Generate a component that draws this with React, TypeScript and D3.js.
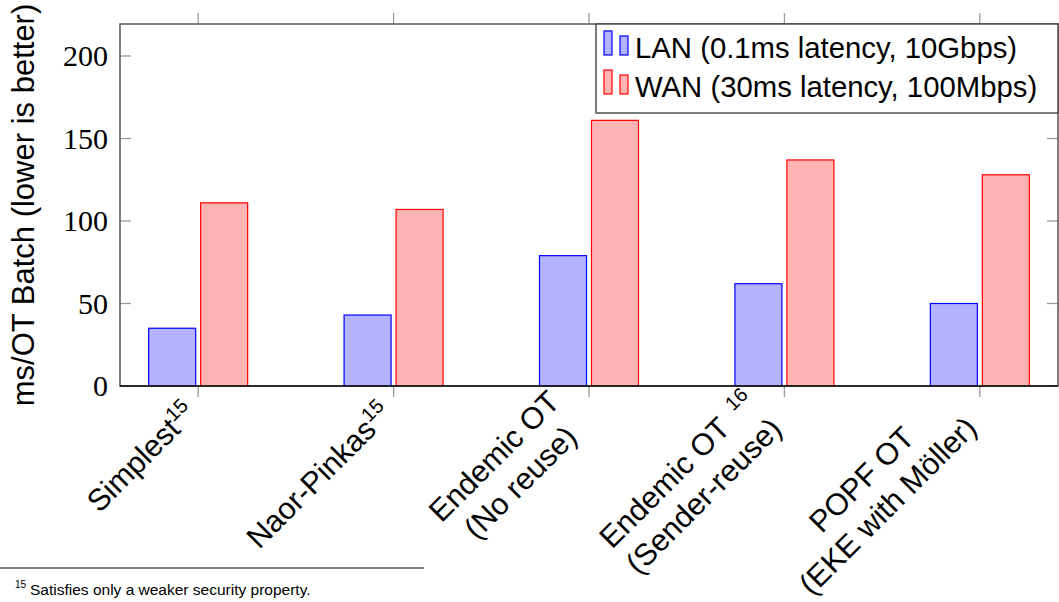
import * as d3 from "d3";
import React, { useEffect, useRef } from "react";

const categories = [
    ["Simplest"],
    ["Naor-Pinkas"],
    ["Endemic OT", "(No reuse)"],
    ["Endemic OT", "(Sender-reuse)"],
    ["POPF OT", "(EKE with Möller)"],
];
const footnoteMarks = ["15", "15", "", "16", ""];
const lanValues = [35, 43, 79, 62, 50];
const wanValues = [111, 107, 161, 137, 128];
const yTicks = [0, 50, 100, 150, 200];
const seriesNames = ["LAN (0.1ms latency, 10Gbps)", "WAN (30ms latency, 100Mbps)"];
const yLabel = "ms/OT Batch (lower is better)";
const footnoteText = "Satisfies only a weaker security property.";

const width = 1059;
const height = 602;
const left = 120;
const right = 1058;
const top = 24;
const bottom = 386;
const sans = "'Liberation Sans', Arial, sans-serif";
const serif = "'Liberation Serif', 'Times New Roman', serif";

const series = [
    { name: seriesNames[0], values: lanValues, fill: "#b3b3ff", stroke: "#0000ff", offset: -26 },
    { name: seriesNames[1], values: wanValues, fill: "#ffb3b3", stroke: "#ff0000", offset: 26 },
];

const App: React.FC = () => {
    const wrapper = useRef<SVGSVGElement>(null);

    useEffect(() => {
        if (!wrapper.current) return;
        const svg = d3.select(wrapper.current);
        svg.selectAll("*").remove();

        const x = d3.scaleLinear().domain([-0.4, 4.4]).range([left, right]);
        const y = d3.scaleLinear().domain([0, 219.4]).range([bottom, top]);
        const barWidth = 47;
        const idx = d3.range(categories.length);

        // ticks
        const ticks = svg.append("g").attr("stroke", "#9a9a9a").attr("stroke-width", 1.3);
        idx.forEach((i) => {
            ticks.append("line").attr("x1", x(i)).attr("x2", x(i)).attr("y1", top - 11).attr("y2", top);
            ticks.append("line").attr("x1", x(i)).attr("x2", x(i)).attr("y1", bottom).attr("y2", bottom + 11);
        });
        yTicks.forEach((t) => {
            ticks.append("line").attr("x1", left).attr("x2", left + 11).attr("y1", y(t)).attr("y2", y(t));
            ticks.append("line").attr("x1", right - 11).attr("x2", right).attr("y1", y(t)).attr("y2", y(t));
        });

        // bars
        series.forEach((s) => {
            svg.append("g")
                .selectAll("rect")
                .data(s.values)
                .join("rect")
                .attr("x", (_, i) => x(i) + s.offset - barWidth / 2)
                .attr("y", (d) => y(d))
                .attr("width", barWidth)
                .attr("height", (d) => y(0) - y(d))
                .attr("fill", s.fill)
                .attr("stroke", s.stroke)
                .attr("stroke-width", 1.2);
        });

        // frame
        svg.append("rect")
            .attr("x", left).attr("y", top)
            .attr("width", right - left).attr("height", bottom - top)
            .attr("fill", "none").attr("stroke", "#555").attr("stroke-width", 1.5);
        svg.append("line")
            .attr("x1", left).attr("x2", right).attr("y1", bottom).attr("y2", bottom)
            .attr("stroke", "#111").attr("stroke-width", 1.6);

        // y tick labels
        svg.append("g")
            .selectAll("text")
            .data(yTicks)
            .join("text")
            .attr("x", 108)
            .attr("y", (d) => y(d) + 10)
            .attr("text-anchor", "end")
            .style("font-family", serif)
            .style("font-size", "30px")
            .text((d) => d);

        // y label
        svg.append("text")
            .attr("transform", `translate(34, ${(top + bottom) / 2}) rotate(-90)`)
            .attr("text-anchor", "middle")
            .style("font-family", sans)
            .style("font-size", "31px")
            .text(yLabel);

        // x tick labels: rotated 45deg, east anchor (right edge, mid height) near the tick
        idx.forEach((i) => {
            const multi = categories[i].length > 1;
            const outer = svg.append("g")
                .attr("transform", `translate(${x(i)}, ${bottom}) rotate(-45)`);
            const inner = outer.append("g");
            categories[i].forEach((line, j) => {
                const t = inner.append("text")
                    .attr("x", 0)
                    .attr("y", j * 37)
                    .attr("text-anchor", "middle")
                    .style("font-family", sans)
                    .style("font-size", "30.5px");
                t.append("tspan").text(line);
                if (j === 0 && footnoteMarks[i]) {
                    t.append("tspan")
                        .attr("dx", multi ? 14 : 0)
                        .attr("dy", -12)
                        .style("font-size", "20px")
                        .text(footnoteMarks[i]);
                }
            });
            const box = (inner.node() as SVGGElement).getBBox();
            const dx = -(box.x + box.width) - (multi ? 32 : 21);
            const dy = -(box.y + box.height / 2) + (multi ? 1 : 9);
            inner.attr("transform", `translate(${dx}, ${dy})`);
        });

        // legend
        const legend = svg.append("g");
        legend.append("rect")
            .attr("x", 596).attr("y", top)
            .attr("width", right - 596).attr("height", 89)
            .attr("fill", "white").attr("stroke", "#444").attr("stroke-width", 1.4);
        series.forEach((s, k) => {
            const row = legend.append("g").attr("transform", `translate(0, ${k * 39})`);
            row.append("rect").attr("x", 604).attr("y", 31).attr("width", 8).attr("height", 24)
                .attr("fill", s.fill).attr("stroke", s.stroke).attr("stroke-width", 1.2);
            row.append("rect").attr("x", 620).attr("y", 36).attr("width", 8).attr("height", 19)
                .attr("fill", s.fill).attr("stroke", s.stroke).attr("stroke-width", 1.2);
            row.append("text")
                .attr("x", 635).attr("y", 58)
                .style("font-family", sans)
                .style("font-size", "29.3px")
                .text(s.name);
        });

        // footnote
        svg.append("line")
            .attr("x1", 0).attr("x2", 424).attr("y1", 568).attr("y2", 568)
            .attr("stroke", "#555").attr("stroke-width", 1.3);
        svg.append("text")
            .attr("x", 15).attr("y", 588)
            .style("font-family", sans)
            .style("font-size", "10px")
            .text(footnoteMarks[0]);
        svg.append("text")
            .attr("x", 30).attr("y", 595)
            .style("font-family", sans)
            .style("font-size", "15.5px")
            .text(footnoteText);
    }, []);

    return (
        <svg
            ref={wrapper}
            width={width}
            height={height}
            viewBox={`0 0 ${width} ${height}`}
            style={{ position: "absolute", left: 0, top: 0, background: "white" }}
        />
    );
};

export default App;
